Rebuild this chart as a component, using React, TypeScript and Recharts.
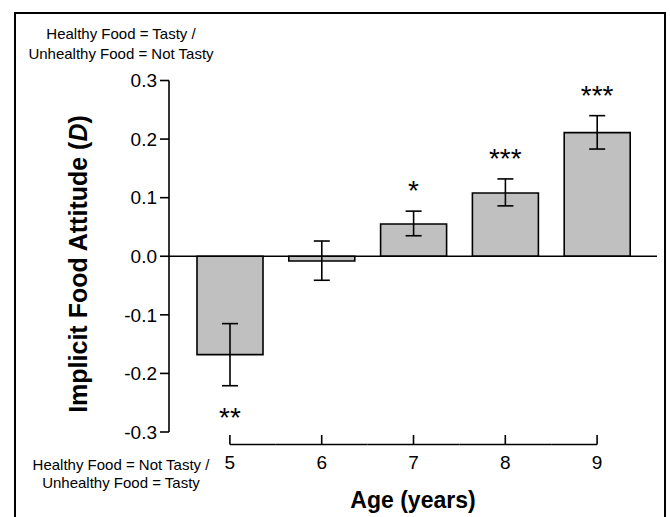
import React from 'react';
import {
  ComposedChart, Bar, ErrorBar, XAxis, YAxis, ReferenceLine, Scatter, Customized,
} from 'recharts';

// ---- data ----
const ages = ['5', '6', '7', '8', '9'];
const means = [-0.168, -0.008, 0.055, 0.108, 0.211];
const ciLow = [-0.221, -0.041, 0.035, 0.086, 0.183];
const ciHigh = [-0.115, 0.026, 0.077, 0.132, 0.240];
const stars = ['**', '', '*', '***', '***'];
const yTicks = [-0.3, -0.2, -0.1, 0, 0.1, 0.2, 0.3];

const data = ages.map((age, i) => ({
  age,
  value: means[i],
  err: [means[i] - ciLow[i], ciHigh[i] - means[i]],
  starAnchor: means[i] >= 0 ? ciHigh[i] : ciLow[i],
  stars: stars[i],
  neg: means[i] < 0,
}));

// ---- layout ----
const W = 670;
const H = 517;
const FONT = '"Liberation Sans", Arial, Helvetica, sans-serif';
const PLOT_LEFT = 169;
const PLOT_RIGHT = 657;
const PAD_L = 15;
const PAD_R = 14;
const HALF_BAND = (PLOT_RIGHT - PLOT_LEFT - PAD_L - PAD_R) / ages.length / 2;

const XTick = (props: any) => {
  const { x, y, payload, index } = props;
  const n = ages.length;
  const lineY = y + 12.5;
  const x1 = index === 0 ? x : x - HALF_BAND;
  const x2 = index === n - 1 ? x : x + HALF_BAND;
  return (
    <g>
      <line x1={x1} y1={lineY} x2={x2} y2={lineY} stroke="#000" strokeWidth={1.6} />
      <line x1={x} y1={y + 3} x2={x} y2={lineY} stroke="#000" strokeWidth={1.6} />
      <text x={x} y={y + 37} textAnchor="middle" fontSize={19} fill="#000" fontFamily={FONT}>
        {payload.value}
      </text>
    </g>
  );
};

const StarShape = (props: any) => {
  const { cx, cy, payload } = props;
  if (!payload || !payload.stars) return <g />;
  const yb = payload.neg ? cy + 41.7 : cy - 10.7;
  return (
    <text x={cx} y={yb} textAnchor="middle" fontSize={28} fill="#000" fontFamily={FONT}>
      {payload.stars}
    </text>
  );
};

const Annotations = () => (
  <g fontFamily={FONT} fill="#000">
    <text x={121} y={38.7} textAnchor="middle" fontSize={15}>Healthy Food = Tasty /</text>
    <text x={121} y={58.7} textAnchor="middle" fontSize={15}>Unhealthy Food = Not Tasty</text>
    <text x={121} y={470.4} textAnchor="middle" fontSize={15}>Healthy Food = Not Tasty /</text>
    <text x={121} y={488} textAnchor="middle" fontSize={15}>Unhealthy Food = Tasty</text>
    <text transform="translate(87,264) rotate(-90)" textAnchor="middle" fontSize={25} fontWeight="bold">
      Implicit Food Attitude (<tspan fontStyle="italic">D</tspan>)
    </text>
    <text x={413} y={508} textAnchor="middle" fontSize={23} fontWeight="bold">Age (years)</text>
  </g>
);

export default function App() {
  return (
    <div style={{ position: 'absolute', left: 0, top: 0, width: W, height: H, background: '#fff', overflow: 'hidden' }}>
      <div
        style={{
          position: 'absolute', left: 14, top: 12, width: 652, height: 530,
          border: '2px solid #000', boxSizing: 'border-box', pointerEvents: 'none',
        }}
      />
      <div style={{ position: 'absolute', left: 0, top: 0 }}>
        <ComposedChart
          width={W}
          height={H}
          data={data}
          margin={{ top: 80.5, right: W - PLOT_RIGHT, bottom: 25, left: PLOT_LEFT - 60 }}
          style={{ fontFamily: FONT }}
        >
          <XAxis
            dataKey="age"
            type="category"
            height={60}
            axisLine={false}
            tickLine={false}
            tickSize={0}
            tickMargin={0}
            padding={{ left: PAD_L, right: PAD_R }}
            tick={<XTick />}
            interval={0}
          />
          <YAxis
            type="number"
            domain={[-0.3, 0.3]}
            ticks={yTicks}
            width={60}
            tickFormatter={(v: number) => v.toFixed(1)}
            tickSize={9}
            tickMargin={3}
            axisLine={{ stroke: '#000', strokeWidth: 1.6 }}
            tickLine={{ stroke: '#000', strokeWidth: 1.6 }}
            tick={{ fill: '#000', fontSize: 19, fontFamily: FONT }}
            allowDataOverflow
          />
          <ReferenceLine y={0} stroke="#000" strokeWidth={1.6} />
          <Bar dataKey="value" barSize={66} fill="#c0c0c0" stroke="#000" strokeWidth={1.6} isAnimationActive={false}>
            <ErrorBar dataKey="err" width={8} stroke="#000" strokeWidth={1.6} direction="y" />
          </Bar>
          <Scatter dataKey="starAnchor" shape={<StarShape />} isAnimationActive={false} />
          <Customized component={Annotations} />
        </ComposedChart>
      </div>
    </div>
  );
}
